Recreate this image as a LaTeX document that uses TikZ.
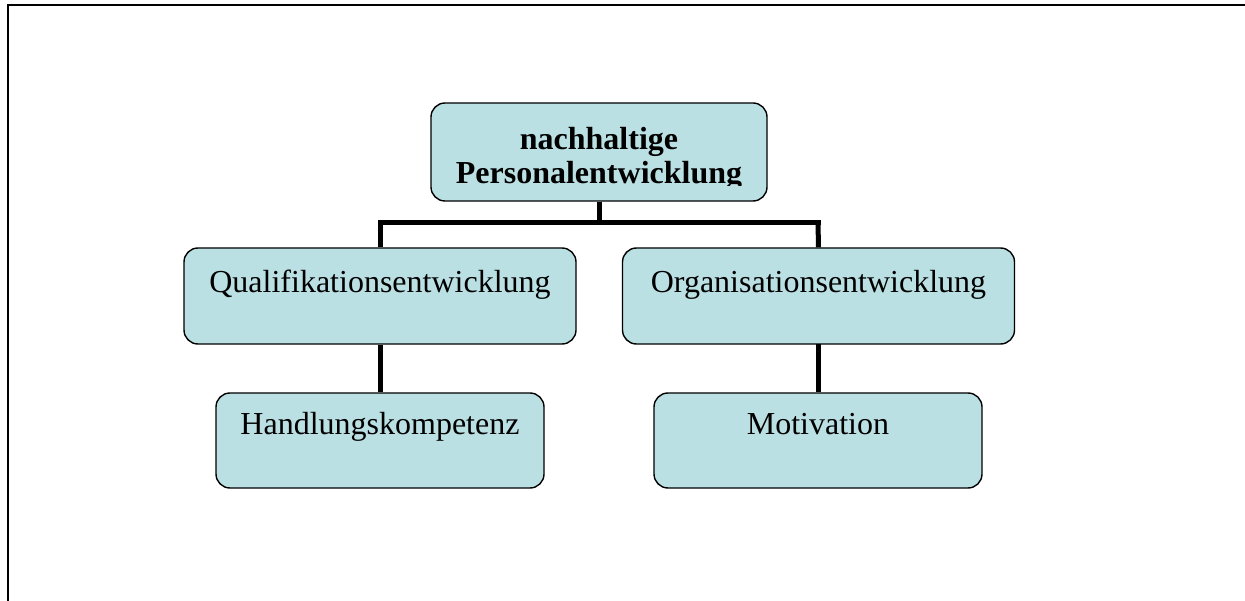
\documentclass[tikz,border=0pt]{standalone}
\usepackage{fontspec}
\setmainfont{Liberation Serif}
\definecolor{boxfill}{RGB}{186,224,227}
\begin{document}
\begin{tikzpicture}[x=1pt,y=-1pt,
  box/.style={draw=black,line width=1.4pt,fill=boxfill,rounded corners=14pt,inner sep=0pt,minimum width=#1},
  box/.default=392pt,
  lbl/.style={anchor=base,inner sep=0pt,font=\fontsize{32}{34}\selectfont},
  blbl/.style={anchor=base,inner sep=0pt,font=\fontsize{32}{34}\selectfont\bfseries},
  conn/.style={line width=5pt}]
\useasboundingbox (0,0) rectangle (1245,601);
% frame
\draw[line width=2pt] (8,601) -- (8,5) -- (1245,5);
% boxes
\node[box=336pt,minimum height=98pt] (top) at (599,152) {};
\node[box=392pt,minimum height=96pt] (q) at (380,296) {};
\node[box=392pt,minimum height=96pt] (o) at (818.5,296) {};
\node[box=328pt,minimum height=95pt] (h) at (380,440.5) {};
\node[box=328pt,minimum height=95pt] (m) at (818,440.5) {};
% connectors
\coordinate (hub) at (599,223);
\coordinate (hl) at (380,223);
\coordinate (hr) at (818,223);
\draw[conn] (top.south) -- (hub);
\draw[conn,line cap=rect] (hl) -- (hr);
\draw[conn] (hl) -- (q.north);
\draw[conn] (hr) -- (o.north);
\draw[conn] (q.south) -- (h.north);
\draw[conn] (818,344) -- (m.north);
% texts
\node[blbl] (t1) at (599,150) {nachhaltige};
\begin{scope}
\clip (420,160) rectangle (780,186);
\node[blbl] (t2) at (599,184) {Personalentwicklung};
\end{scope}
\node[lbl] (tq) at (380,293) {Qualifikationsentwicklung};
\node[lbl] (to) at (818.5,293) {Organisationsentwicklung};
\node[lbl] (th) at (380,435) {Handlungskompetenz};
\node[lbl] (tm) at (818,435) {Motivation};
\end{tikzpicture}
\end{document}
